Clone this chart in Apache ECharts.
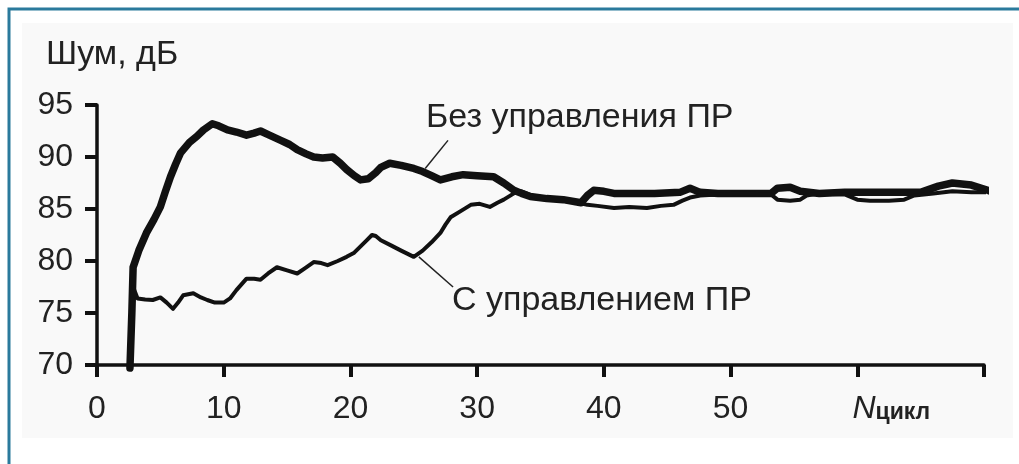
<!DOCTYPE html>
<html>
<head>
<meta charset="utf-8">
<script src="https://cdn.jsdelivr.net/npm/echarts@6/dist/echarts.min.js"></script>
<style>
html,body{margin:0;padding:0;background:#fff;}
#chart{width:1019px;height:464px;}
</style>
</head>
<body>
<div id="chart"></div>
<script>
// ---- data ----
var yTicks = [70, 75, 80, 85, 90, 95];
var xTickLabels = ['0', '10', '20', '30', '40', '50', 'N', ''];
var yAxisTitle = 'Шум, дБ';
var xAxisTitleMain = 'N';
var xAxisTitleSub = 'цикл';
var labelWithout = 'Без управления ПР';
var labelWith = 'С управлением ПР';

// "Без управления ПР" (thick)
var xWithout = [2.6, 2.75, 2.85, 3.3, 3.9, 4.5, 5.0, 5.4, 5.8, 6.2, 6.6, 7.3, 7.9, 8.4, 9.1, 9.6, 10.3, 11.0, 11.8, 12.4, 12.9, 13.6, 14.5, 15.2, 15.8, 16.5, 17.1, 17.8, 18.6, 19.2, 19.7, 20.3, 20.8, 21.4, 22.0, 22.4, 23.1, 24.0, 25.0, 25.7, 26.4, 27.1, 28.0, 28.9, 30.0, 31.3, 32.1, 32.9, 33.5, 34.2, 35.5, 36.8, 38.2, 38.7, 39.2, 40.0, 40.8, 42, 44, 46, 46.8, 47.6, 49, 51, 53.2, 53.7, 54.7, 55.5, 57, 59, 60, 62, 63.7, 65, 66.4, 67.5, 69, 70.3, 70.7];
var yWithout = [69.7, 75, 79.4, 81, 82.7, 84, 85.2, 86.7, 88.1, 89.3, 90.4, 91.4, 92.0, 92.6, 93.2, 93.0, 92.6, 92.4, 92.1, 92.3, 92.5, 92.1, 91.6, 91.2, 90.7, 90.3, 90.0, 89.9, 90.0, 89.4, 88.8, 88.2, 87.8, 87.9, 88.5, 89.0, 89.4, 89.2, 88.9, 88.6, 88.2, 87.8, 88.1, 88.3, 88.2, 88.1, 87.5, 86.8, 86.5, 86.2, 86.0, 85.9, 85.6, 86.3, 86.8, 86.7, 86.5, 86.5, 86.5, 86.6, 87.0, 86.6, 86.5, 86.5, 86.5, 87.0, 87.1, 86.7, 86.5, 86.6, 86.6, 86.6, 86.6, 86.6, 87.2, 87.5, 87.3, 86.8, 86.6];

// "С управлением ПР" (thin)
var xWith = [2.6, 2.7, 2.8, 2.85, 3.2, 3.8, 4.4, 5.0, 5.5, 6.0, 6.4, 6.8, 7.6, 8.2, 8.7, 9.3, 10.0, 10.5, 11.0, 11.8, 12.4, 12.9, 13.5, 14.2, 15.0, 15.8, 16.4, 17.1, 17.7, 18.2, 19.0, 19.7, 20.3, 20.8, 21.3, 21.7, 22.0, 22.4, 23.2, 24.0, 25.0, 25.7, 26.4, 27.1, 27.5, 27.9, 28.7, 29.5, 30.2, 31.0, 31.6, 32.1, 32.9, 33.5, 34.5, 35.5, 36.8, 38.0, 38.7, 39.5, 40.8, 42, 43.4, 44.5, 45.5, 46.2, 46.8, 47.6, 49, 51, 53.2, 53.7, 54.7, 55.5, 56, 57, 59, 60, 61, 62.5, 63.7, 64.5, 66, 67.5, 69, 70.3, 70.7];
var yWith = [69.7, 73, 76, 77.5, 76.4, 76.3, 76.25, 76.5, 76.0, 75.4, 76.0, 76.7, 76.9, 76.5, 76.25, 76.0, 76.0, 76.4, 77.2, 78.3, 78.3, 78.2, 78.8, 79.4, 79.1, 78.8, 79.3, 79.9, 79.8, 79.6, 80.0, 80.4, 80.8, 81.4, 82.0, 82.5, 82.4, 82.0, 81.5, 81.0, 80.4, 81.0, 81.8, 82.7, 83.5, 84.2, 84.8, 85.4, 85.5, 85.2, 85.6, 85.9, 86.5, 86.7, 86.2, 86.0, 85.8, 85.6, 85.4, 85.3, 85.1, 85.2, 85.1, 85.3, 85.4, 85.8, 86.1, 86.3, 86.4, 86.5, 86.4, 85.9, 85.8, 85.9, 86.3, 86.5, 86.4, 85.9, 85.8, 85.8, 85.9, 86.3, 86.5, 86.7, 86.6, 86.6, 86.6];

// leader lines (data coordinates)
var leaderWithout = [[27.7, 91.6], [25.9, 88.9]];
var leaderWith = [[25.4, 80.4], [28.1, 77.5]];

function pairs(xs, ys) { return xs.map(function (x, i) { return [x, ys[i]]; }); }

var FONT = '"Liberation Sans", Arial, sans-serif';
var chart = echarts.init(document.getElementById('chart'), null, {renderer: 'canvas'});

var option = {
  animation: false,
  backgroundColor: '#ffffff',
  grid: {left: 97, right: 35, top: 105, bottom: 99, containLabel: false},
  xAxis: {
    type: 'value', min: 0, max: 70, interval: 10,
    splitLine: {show: false},
    axisLine: {lineStyle: {color: '#111', width: 3.5}},
    axisTick: {inside: false, length: 12, lineStyle: {color: '#111', width: 4}},
    axisLabel: {
      margin: 28, fontSize: 32, color: '#222', fontFamily: FONT,
      formatter: function (v) {
        var idx = Math.round(v / 10);
        var t = xTickLabels[idx];
        if (t === xAxisTitleMain) return '{sp| }{n|' + xAxisTitleMain + '}{s|' + xAxisTitleSub + '}';
        return t === undefined ? '' : t;
      },
      rich: {
        sp: {width: 68, fontSize: 32},
        n: {fontSize: 32, fontStyle: 'italic', color: '#222', fontFamily: FONT},
        s: {fontSize: 23, fontWeight: 'bold', color: '#222', fontFamily: FONT, padding: [7, 0, 0, 0]}
      }
    }
  },
  yAxis: {
    type: 'value', min: 70, max: 95, interval: 5,
    splitLine: {show: false},
    axisLine: {show: true, lineStyle: {color: '#111', width: 3.5}},
    axisTick: {show: true, inside: false, length: 12, lineStyle: {color: '#111', width: 4}},
    axisLabel: {margin: 24, fontSize: 32, color: '#222', fontFamily: FONT,
      formatter: function (v) { return yTicks.indexOf(v) >= 0 ? String(v) : ''; }}
  },
  graphic: [
    {type: 'rect', z: -10, shape: {x: 9, y: 9, width: 1200, height: 700}, style: {fill: '#ffffff', stroke: '#2a7a9c', lineWidth: 3}},
    {type: 'rect', z: -9, shape: {x: 22, y: 23, width: 991, height: 415}, style: {fill: '#f9f9f9'}},
    {type: 'text', left: 46, top: 38, style: {text: yAxisTitle, font: '34px ' + FONT, fill: '#222'}},
    {type: 'text', left: 426, top: 101, style: {text: labelWithout, font: '34px ' + FONT, fill: '#222'}},
    {type: 'text', left: 452, top: 284, style: {text: labelWith, font: '34px ' + FONT, fill: '#222'}}
  ],
  series: [
    {
      name: labelWithout, type: 'line', data: pairs(xWithout, yWithout),
      showSymbol: false, symbol: 'none', clip: false, z: 3,
      lineStyle: {color: '#111', width: 7.5, join: 'round', cap: 'round'},
      markLine: {
        silent: true, symbol: 'none', animation: false,
        lineStyle: {color: '#222', width: 1.5, type: 'solid'},
        label: {show: false},
        data: [[{coord: leaderWithout[0]}, {coord: leaderWithout[1]}]]
      }
    },
    {
      name: labelWith, type: 'line', data: pairs(xWith, yWith),
      showSymbol: false, symbol: 'none', clip: false, z: 4,
      lineStyle: {color: '#111', width: 4, join: 'round', cap: 'round'},
      markLine: {
        silent: true, symbol: 'none', animation: false,
        lineStyle: {color: '#222', width: 1.5, type: 'solid'},
        label: {show: false},
        data: [[{coord: leaderWith[0]}, {coord: leaderWith[1]}]]
      }
    }
  ]
};
chart.setOption(option);
</script>
</body>
</html>
